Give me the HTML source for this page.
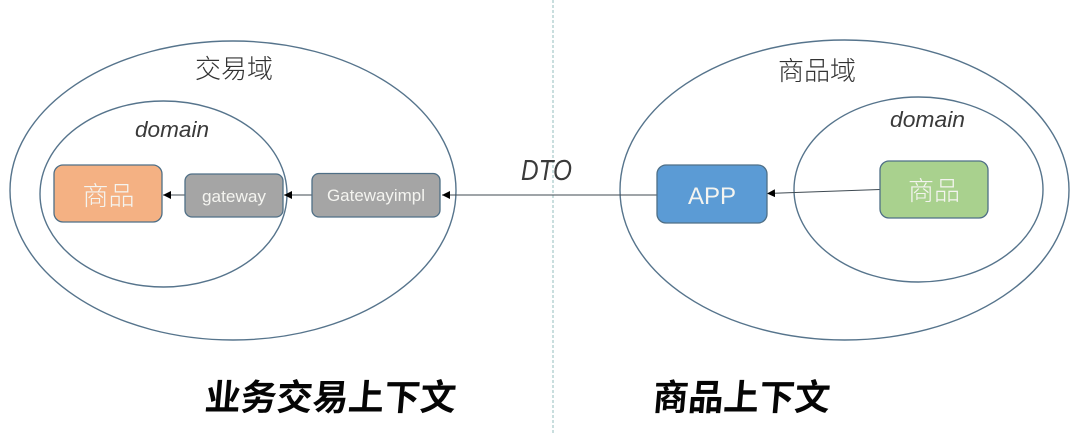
<!DOCTYPE html>
<html lang="zh">
<head>
<meta charset="utf-8">
<style>
html,body{margin:0;padding:0;background:#fff;width:1080px;height:433px;overflow:hidden}
svg{display:block}
text{font-family:"Liberation Sans","Noto Sans CJK SC",sans-serif}
.c{font-family:"Noto Sans CJK SC",sans-serif;font-weight:300;fill:#333;font-size:26px}
.t{fill:#3a3a3a;font-style:italic}
.w{fill:#f4f4f0;text-anchor:middle}
.wc{font-family:"Noto Sans CJK SC",sans-serif;font-weight:300}
.h{font-weight:700;fill:#050505;font-size:36px;font-family:"Noto Sans CJK SC",sans-serif}
</style>
</head>
<body>
<svg width="1080" height="433" viewBox="0 0 1080 433" xmlns="http://www.w3.org/2000/svg">
<defs>
<marker id="a" markerWidth="9" markerHeight="9" refX="8" refY="4" orient="auto" markerUnits="userSpaceOnUse"><path d="M8 4L0 0V8Z" fill="#000"/></marker>
</defs>
<rect width="1080" height="433" fill="#fff"/>
<line x1="553" y1="0" x2="553" y2="433" stroke="#a5c8c8" stroke-width="1.2" stroke-dasharray="3 2"/>
<g fill="none" stroke="#56748c" stroke-width="1.4">
<ellipse cx="233" cy="190.5" rx="223" ry="149.5"/>
<ellipse cx="163.5" cy="194" rx="123.5" ry="93"/>
<ellipse cx="844.5" cy="190" rx="224.5" ry="150"/>
<ellipse cx="918.5" cy="189.5" rx="124.5" ry="92.5"/>
</g>
<g stroke="#3f4a52" stroke-width="1" fill="none">
<line x1="657" y1="195" x2="442" y2="195" marker-end="url(#a)"/>
<line x1="312" y1="195" x2="284" y2="195" marker-end="url(#a)"/>
<line x1="185" y1="195" x2="163" y2="195" marker-end="url(#a)"/>
<line x1="880" y1="189.5" x2="767" y2="193.5" marker-end="url(#a)"/>
</g>
<g stroke="#4f6f86" stroke-width="1.3">
<rect x="54" y="165" width="108" height="57" rx="9" fill="#f4b183"/>
<rect x="185" y="174" width="98" height="43" rx="7" fill="#a5a5a5"/>
<rect x="312" y="173.500" width="128" height="43.500" rx="7" fill="#a5a5a5"/>
<rect x="657" y="165" width="110" height="58" rx="9" fill="#5b9bd5"/>
<rect x="880" y="161" width="108" height="57" rx="9" fill="#a9d18e"/>
</g>
<text class="w wc" x="108.500" y="205" font-size="26">商品</text>
<text class="w" x="234" y="202" font-size="17" textLength="64" lengthAdjust="spacingAndGlyphs">gateway</text>
<text class="w" x="376" y="201" font-size="17" textLength="98" lengthAdjust="spacingAndGlyphs">Gatewayimpl</text>
<text class="w" x="712" y="204" font-size="24">APP</text>
<text class="w wc" x="934" y="200" font-size="26">商品</text>
<text class="c" x="195" y="78">交易域</text>
<text class="c" x="778" y="80">商品域</text>
<text class="t" x="135" y="137" font-size="22" textLength="74" lengthAdjust="spacingAndGlyphs">domain</text>
<text class="t" x="890" y="127" font-size="22" textLength="75" lengthAdjust="spacingAndGlyphs">domain</text>
<text class="t" x="521" y="180" font-size="29" textLength="51" lengthAdjust="spacingAndGlyphs">DTO</text>
<text class="h" transform="translate(204 410) skewX(-5)" textLength="251" lengthAdjust="spacingAndGlyphs">业务交易上下文</text>
<text class="h" transform="translate(652 410) skewX(-5)" textLength="177" lengthAdjust="spacingAndGlyphs">商品上下文</text>
</svg>
</body>
</html>
